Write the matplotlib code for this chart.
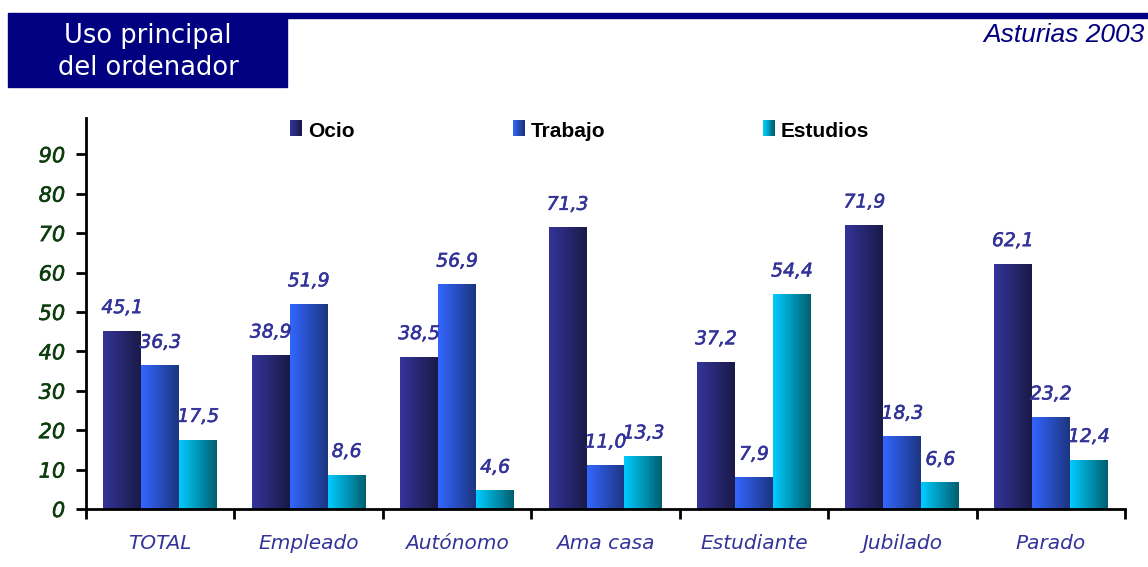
import numpy as np
import matplotlib
matplotlib.use("Agg")
import matplotlib.pyplot as plt
import matplotlib.patheffects as pe
from matplotlib.patches import Rectangle
from matplotlib.legend_handler import HandlerBase
from matplotlib.colors import LinearSegmentedColormap

categories = ["TOTAL", "Empleado", "Autónomo", "Ama casa", "Estudiante", "Jubilado", "Parado"]
ocio = [45.1, 38.9, 38.5, 71.3, 37.2, 71.9, 62.1]
trabajo = [36.3, 51.9, 56.9, 11.0, 7.9, 18.3, 23.2]
estudios = [17.5, 8.6, 4.6, 13.3, 54.4, 6.6, 12.4]
series_names = ["Ocio", "Trabajo", "Estudios"]

# left -> right shading of each series
grads = [("#34349a", "#1a1a48"),
         ("#3366ff", "#1c3580"),
         ("#00ccff", "#005f70")]

NAVY = "#000080"
LABEL = "#333399"
TICK = "#0d3d0d"

fig = plt.figure(figsize=(11.48, 5.67), dpi=100)
W, H = 1148, 567

# header block
fig.patches.append(Rectangle((8 / W, 1 - 87 / H), 279 / W, 74 / H,
                             transform=fig.transFigure, color=NAVY, zorder=0))
fig.patches.append(Rectangle((287 / W, 1 - 18 / H), 861 / W, 5 / H,
                             transform=fig.transFigure, color=NAVY, zorder=0))
fig.text(148 / W, 1 - 52 / H, "Uso principal\ndel ordenador", color="white",
         fontsize=18.5, ha="center", va="center", linespacing=1.3,
         family="DejaVu Sans")
fig.text(1145 / W, 1 - 35 / H, "Asturias 2003", color=NAVY, fontsize=19,
         style="italic", ha="right", va="center", family="Liberation Sans")

ax = fig.add_axes([86 / W, 58 / H, 1039 / W, 391 / H])

x = np.arange(len(categories))
bw = 0.256
data = [ocio, trabajo, estudios]
for k, vals in enumerate(data):
    cmap = LinearSegmentedColormap.from_list("g%d" % k, grads[k])
    bars = ax.bar(x + (k - 1) * bw, vals, bw, color="none", edgecolor="none")
    for b, v in zip(bars, vals):
        x0, w, h = b.get_x(), b.get_width(), b.get_height()
        ax.imshow(np.linspace(0, 1, 64).reshape(1, -1), cmap=cmap,
                  extent=[x0, x0 + w, 0, h], aspect="auto", zorder=2,
                  interpolation="bilinear")
        ax.annotate(("%.1f" % v).replace(".", ","), (x0 + w / 2, h),
                    xytext=(0, 17), textcoords="offset points",
                    ha="center", va="center", fontsize=13.5,
                    style="italic", color=LABEL, family="DejaVu Sans",
                    path_effects=[pe.withStroke(linewidth=0.4, foreground=LABEL)])

ax.set_xlim(-0.5, len(categories) - 0.5)
ax.set_ylim(0, 99.2)
ax.set_yticks(range(0, 100, 10))
ax.set_yticklabels([str(t) for t in range(0, 100, 10)], fontsize=15,
                   style="italic", color=TICK)
for t in ax.get_yticklabels():
    t.set_path_effects([pe.withStroke(linewidth=0.4, foreground=TICK)])
ax.set_xticks(np.arange(len(categories) + 1) - 0.5)
ax.set_xticklabels([])
ax.set_xticks(x, minor=True)
ax.set_xticklabels(categories, minor=True, fontsize=14.5, style="italic",
                   color=LABEL)
ax.tick_params(axis="x", which="minor", length=0, pad=18)
ax.tick_params(axis="x", which="major", length=7, width=2)
ax.tick_params(axis="y", length=7, width=2, pad=8)
for s in ["top", "right"]:
    ax.spines[s].set_visible(False)
for s in ["left", "bottom"]:
    ax.spines[s].set_linewidth(2)


class GradHandler(HandlerBase):
    def __init__(self, cols):
        super().__init__()
        self.cols = cols

    def create_artists(self, legend, orig, xd, yd, width, height, fontsize, trans):
        cmap = LinearSegmentedColormap.from_list("lg", self.cols)
        n = 10
        out = []
        for i in range(n):
            r = Rectangle((xd + width * i / n, yd), width / n + 0.3, height,
                          facecolor=cmap(i / (n - 1)), edgecolor="none",
                          transform=trans)
            out.append(r)
        return out


handles = [Rectangle((0, 0), 1, 1) for _ in series_names]
fig.legend(handles, series_names, ncol=3, frameon=False,
           loc="center left", bbox_to_anchor=(290 / W, 1 - 131 / H),
           borderaxespad=0, borderpad=0,
           handler_map={h: GradHandler(grads[i]) for i, h in enumerate(handles)},
           handlelength=0.55, handleheight=0.8, handletextpad=0.3,
           columnspacing=7.6, prop={"family": "Liberation Sans",
                                    "weight": "bold", "size": 15})

fig.savefig("out.png", dpi=100)
